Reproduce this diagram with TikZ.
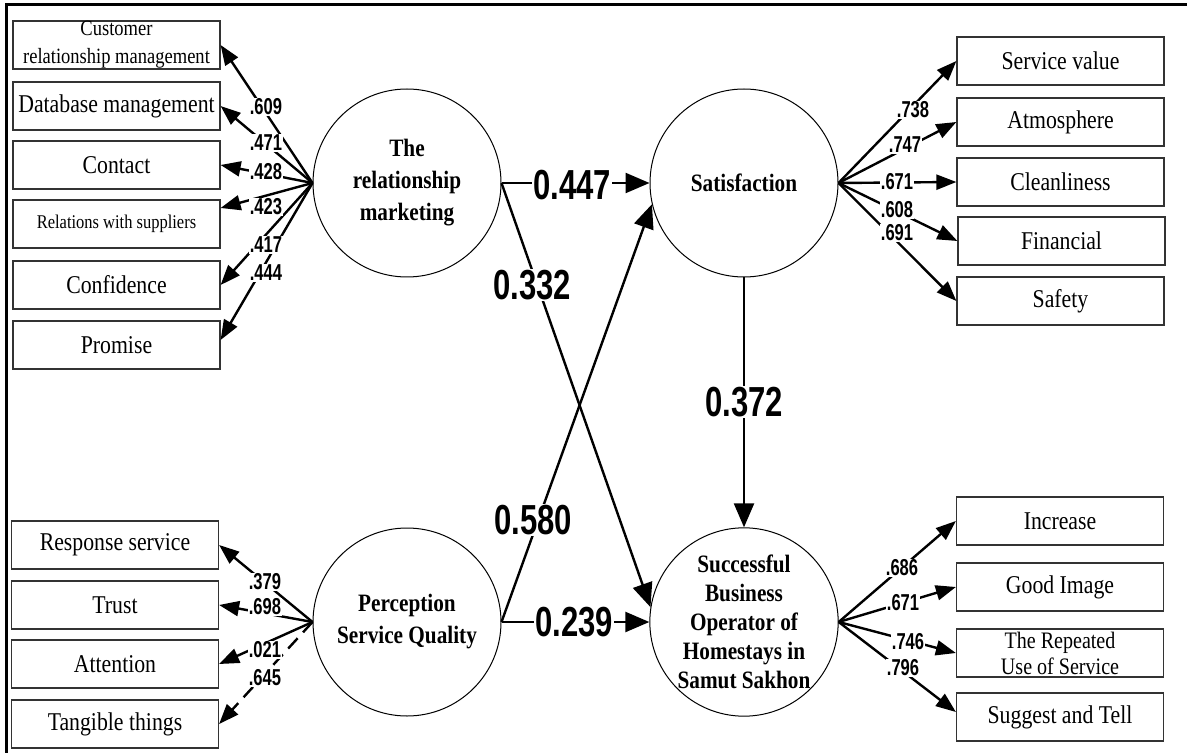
\documentclass[tikz,border=0pt]{standalone}
\usepackage{fontspec}
\setmainfont{Liberation Serif}[FakeStretch=0.85]
\setsansfont{Liberation Sans}
\usepackage{graphicx}
\usepackage{tikz}
\usetikzlibrary{arrows.meta,calc}
\newcommand{\ld}[1]{\scalebox{0.72}[1]{#1}}
\newcommand{\cf}[1]{\scalebox{0.74}[1]{#1}}

\begin{document}
\begin{tikzpicture}[
  x=0.5pt, y=-0.5pt,
  latent/.style={draw, circle, line width=0.5pt, minimum size=94pt, inner sep=0pt, align=center, font=\bfseries\fontsize{12.5}{16}\selectfont},
  item/.style={draw=black!80, line width=0.6pt, minimum width=103.5pt, minimum height=24pt, inner sep=0pt, align=center, font=\fontsize{12.8}{13}\selectfont},
  load/.style={line width=1.2pt, -{Triangle[length=10pt, width=7.5pt]}},
  effect/.style={line width=1.2pt, -{Triangle[length=12pt, width=10pt]}},
  lbl/.style={fill=white, inner sep=0.3pt, font=\sffamily\bfseries\fontsize{11.5}{12}\selectfont},
  coef/.style={fill=white, inner sep=0.6pt, font=\sffamily\bfseries\fontsize{21}{22}\selectfont}
]
\useasboundingbox (0,0) rectangle (1187,753);
\draw[line width=1.5pt] (6,753) -- (6,5) -- (1187,5);

\node[latent] (rm) at (407,183) {The\\relationship\\marketing};
\node[latent] (sat) at (744,183) {Satisfaction};
\node[latent] (psq) at (407,622) {Perception\\Service Quality};
\node[latent, font=\bfseries\fontsize{12.5}{14.5}\selectfont] (sbo) at (744,622) {Successful\\Business\\Operator of\\Homestays in\\Samut Sakhon};

\node[item, font=\fontsize{10.9}{14}\selectfont] (crm) at (116.5,45) {Customer\\relationship management};
\node[item] (dbm) at (116.5,106) {Database management};
\node[item] (con) at (116.5,165) {Contact};
\node[item, font=\fontsize{9.7}{10}\selectfont] (rws) at (116.5,224) {Relations with suppliers};
\node[item] (cfd) at (116.5,285) {Confidence};
\node[item] (prm) at (116.5,345) {Promise};

\node[item] (rsv) at (115,545) {Response service};
\node[item] (tru) at (115,605) {Trust};
\node[item] (att) at (115,664) {Attention};
\node[item] (tng) at (115,724) {Tangible things};

\node[item] (svv) at (1060.5,61) {Service value};
\node[item] (atm) at (1060.5,122) {Atmosphere};
\node[item] (cln) at (1060.5,182) {Cleanliness};
\node[item] (fin) at (1061.5,241) {Financial};
\node[item] (saf) at (1060.5,301) {Safety};

\node[item] (inc) at (1060,521) {Increase};
\node[item] (gim) at (1060,587) {Good Image};
\node[item, font=\fontsize{11.8}{13}\selectfont] (rep) at (1060,653) {The Repeated\\Use of Service};
\node[item] (sgt) at (1060,717) {Suggest and Tell};

\foreach \b in {crm,dbm,con,cfd}
  \draw[load] (rm.west) -- (\b.east);
\draw[load] (rm.west) -- ($(rws.east)+(0,-16)$);
\draw[load] (rm.west) -- ($(prm.east)+(0,-5)$);
\foreach \b in {rsv,tru,att}
  \draw[load] (psq.west) -- (\b.east);
\draw[load, dash pattern=on 7pt off 4pt] (psq.west) -- (tng.east);
\foreach \b in {svv,atm,cln,fin,saf}
  \draw[load] (sat.east) -- (\b.west);
\foreach \b in {inc,gim,rep}
  \draw[load] (sbo.east) -- (\b.west);
\draw[load] (sbo.east) -- ($(sgt.west)+(0,-5)$);

\node[lbl] at (266,107) {\ld{.609}};
\node[lbl] at (266,143) {\ld{.471}};
\node[lbl] at (266,172) {\ld{.428}};
\node[lbl] at (266,207) {\ld{.423}};
\node[lbl] at (266,245) {\ld{.417}};
\node[lbl] at (266,273) {\ld{.444}};

\node[lbl] at (265,582) {\ld{.379}};
\node[lbl] at (265,607) {\ld{.698}};
\node[lbl] at (265,650) {\ld{.021}};
\node[lbl] at (265,678) {\ld{.645}};

\node[lbl] at (913,110) {\ld{.738}};
\node[lbl] at (905,145) {\ld{.747}};
\node[lbl] at (897,182) {\ld{.671}};
\node[lbl] at (897,210) {\ld{.608}};
\node[lbl] at (897,233) {\ld{.691}};

\node[lbl] at (902,568) {\ld{.686}};
\node[lbl] at (903,603) {\ld{.671}};
\node[lbl] at (908,642) {\ld{.746}};
\node[lbl] at (903,668) {\ld{.796}};

\draw[effect] (rm.east) -- (sat.west);
\draw[effect] (rm.east) -- (sbo.171);
\draw[effect] (psq.east) -- (sat.193);
\draw[effect] (psq.east) -- (sbo.west);
\draw[effect] (sat.south) -- (sbo.north);

\node[coef] at (572,185) {\cf{0.447}};
\node[coef] at (532,285) {\cf{0.332}};
\node[coef] at (533,520) {\cf{0.580}};
\node[coef] at (574,622) {\cf{0.239}};
\node[coef] at (744,402) {\cf{0.372}};
\end{tikzpicture}
\end{document}
